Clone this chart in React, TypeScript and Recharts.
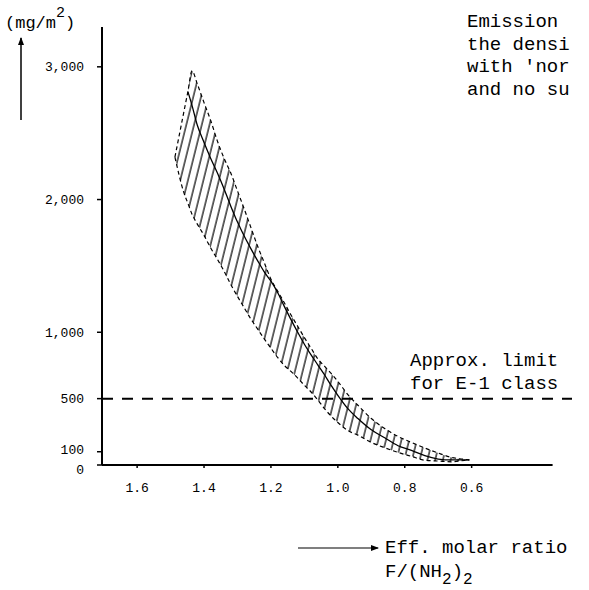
import React from 'react';
import { ComposedChart, Area, Line, XAxis, YAxis, ReferenceLine } from 'recharts';

// Effective molar ratio F/(NH2)2 (x) and emission values (mg/m2)
const ratio = [1.487, 1.46, 1.448, 1.436, 1.42, 1.40, 1.38, 1.36, 1.34, 1.32, 1.30, 1.28, 1.26, 1.24, 1.22, 1.20, 1.18, 1.16, 1.14, 1.12, 1.10, 1.08, 1.06, 1.04, 1.02, 1.00, 0.97, 0.94, 0.90, 0.86, 0.82, 0.78, 0.74, 0.70, 0.66, 0.63, 0.607];
const upper = [2320, 2664, 2816, 2969, 2870, 2730, 2595, 2440, 2310, 2200, 2065, 1930, 1790, 1650, 1525, 1400, 1310, 1222, 1130, 1045, 960, 880, 800, 745, 690, 630, 530, 450, 350, 275, 215, 170, 128, 90, 57, 45, 38];
const lower = [2320, 2050, 1970, 1890, 1815, 1730, 1635, 1550, 1460, 1360, 1270, 1185, 1100, 1025, 950, 880, 810, 750, 705, 655, 600, 550, 490, 425, 368, 320, 260, 225, 170, 130, 95, 65, 36, 30, 24, 32, 38];
const middle: (number | null)[] = [null, null, 2811, 2710, 2560, 2430, 2310, 2200, 2080, 1950, 1830, 1725, 1630, 1540, 1455, 1385, 1300, 1195, 1095, 1000, 910, 830, 755, 680, 600, 525, 425, 350, 265, 205, 145, 110, 70, 45, 38, 38, 38];

const xTicks = [1.6, 1.4, 1.2, 1.0, 0.8, 0.6];
const yTicks = [0, 100, 500, 1000, 2000, 3000];
const limitValue = 500;

const X_MIN = 0.3;
const X_MAX = 1.705;
const AXIS_END = 0.358;

const data = ratio.map((r, i) => ({
  ratio: r,
  band: [lower[i], upper[i]],
  upper: upper[i],
  lower: lower[i],
  mid: middle[i],
}));

const mono = 'Liberation Mono, DejaVu Sans Mono, monospace';

const YTick = (props: any) => {
  const { x, y, payload } = props;
  const v = payload.value as number;
  const shift = v === 0 ? 4 : v === 100 ? -2 : 0;
  return (
    <text x={x} y={y + shift} dy="0.35em" textAnchor="end" fontSize={13} fontFamily={mono} fill="#000">
      {v.toLocaleString('en-US')}
    </text>
  );
};

export default function App() {
  return (
    <div style={{ position: 'absolute', left: 0, top: 0, width: 589, height: 590, background: '#fff' }}>
      <svg width={0} height={0} style={{ position: 'absolute' }}>
        <defs>
          <pattern id="hatch" patternUnits="userSpaceOnUse" width={7.5} height={7.5} patternTransform="rotate(14)">
            <line x1={1} y1={0} x2={1} y2={7.5} stroke="#000" strokeWidth={1.2} />
          </pattern>
        </defs>
      </svg>
      <ComposedChart
        width={589}
        height={590}
        data={data}
        margin={{ top: 27, right: 17, bottom: 95, left: 0 }}
      >
        <XAxis
          dataKey="ratio"
          type="number"
          domain={[X_MIN, X_MAX]}
          reversed
          allowDataOverflow
          ticks={xTicks}
          interval={0}
          tickFormatter={(v: number) => v.toFixed(1)}
          axisLine={false}
          tickLine={{ stroke: '#000', strokeWidth: 1.5 }}
          tickSize={3}
          tickMargin={15}
          tick={{ fill: '#000', fontSize: 13, fontFamily: mono }}
          height={30}
        />
        <YAxis
          type="number"
          domain={[0, 3300]}
          allowDataOverflow
          ticks={yTicks}
          interval={0}
          axisLine={{ stroke: '#000', strokeWidth: 2 }}
          tickLine={{ stroke: '#000', strokeWidth: 1.5 }}
          tickSize={5}
          tickMargin={13}
          tick={<YTick />}
          width={102}
        />
        <Area
          type="monotone"
          dataKey="band"
          fill="url(#hatch)"
          fillOpacity={1}
          stroke="none"
          isAnimationActive={false}
        />
        <Line type="monotone" dataKey="upper" stroke="#000" strokeWidth={1.2} strokeDasharray="4 3" dot={false} isAnimationActive={false} />
        <Line type="monotone" dataKey="lower" stroke="#000" strokeWidth={1.2} strokeDasharray="4 3" dot={false} isAnimationActive={false} />
        <Line type="monotone" dataKey="mid" stroke="#000" strokeWidth={1.3} dot={false} connectNulls={false} isAnimationActive={false} />
        <ReferenceLine y={limitValue} stroke="#000" strokeWidth={2} strokeDasharray="11 9" />
        <ReferenceLine
          segment={[{ x: X_MAX, y: 0 }, { x: AXIS_END, y: 0 }]}
          stroke="#000"
          strokeWidth={2}
        />
      </ComposedChart>
      <svg
        width={589}
        height={590}
        style={{ position: 'absolute', left: 0, top: 0, pointerEvents: 'none' }}
        fontFamily={mono}
        fill="#000"
      >
        <defs>
          <marker id="ah" markerWidth={8} markerHeight={8} refX={7} refY={4} orient="auto" markerUnits="userSpaceOnUse">
            <path d="M0,1 L8,4 L0,7 Z" fill="#000" />
          </marker>
        </defs>
        {/* y-axis unit */}
        <text x={5} y={28} fontSize={17}>
          (mg/m<tspan dy={-11} fontSize={15}>2</tspan><tspan dy={11}>)</tspan>
        </text>
        <line x1={21} y1={120} x2={21} y2={38} stroke="#000" strokeWidth={1.5} markerEnd="url(#ah)" />
        {/* top-right note */}
        <text x={467} y={27} fontSize={19}>Emission</text>
        <text x={467} y={50} fontSize={19}>the densi</text>
        <text x={467} y={72} fontSize={19}>with 'nor</text>
        <text x={467} y={95} fontSize={19}>and no su</text>
        {/* limit note */}
        <text x={410} y={366} fontSize={19}>Approx. limit</text>
        <text x={410} y={389} fontSize={19}>for E-1 class</text>
        {/* x-axis label */}
        <line x1={298} y1={548} x2={378} y2={548} stroke="#000" strokeWidth={1.2} markerEnd="url(#ah)" />
        <text x={385} y={553} fontSize={19}>Eff. molar ratio</text>
        <text x={385} y={577} fontSize={19}>
          F/(NH<tspan dy={7} fontSize={16}>2</tspan><tspan dy={-7}>)</tspan><tspan dy={7} fontSize={16}>2</tspan>
        </text>
      </svg>
    </div>
  );
}
